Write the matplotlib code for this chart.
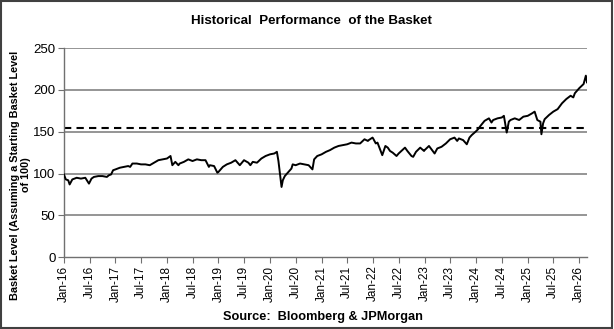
import numpy as np
import pandas as pd
import matplotlib
matplotlib.use("Agg")
import matplotlib.pyplot as plt
import matplotlib.dates as mdates
from matplotlib.patches import Rectangle

plt.rcParams["font.family"] = ["Liberation Sans", "DejaVu Sans"]

# basket level (approximate)
dates = [
    "2016-01-01", "2016-01-15", "2016-02-01", "2016-02-11", "2016-03-01", "2016-04-01", "2016-05-01",
    "2016-06-01", "2016-06-27", "2016-07-15", "2016-08-01", "2016-09-01", "2016-10-01", "2016-11-01",
    "2016-11-15", "2016-12-01", "2016-12-15",
    "2017-01-01", "2017-02-01", "2017-03-01", "2017-04-01", "2017-04-15", "2017-05-01", "2017-06-01",
    "2017-07-01", "2017-08-01", "2017-09-01", "2017-10-01", "2017-11-01", "2017-12-01",
    "2018-01-01", "2018-01-26", "2018-02-08", "2018-03-01", "2018-03-23", "2018-04-01", "2018-05-01",
    "2018-06-01", "2018-07-01", "2018-08-01", "2018-09-01", "2018-10-01", "2018-10-25", "2018-11-01",
    "2018-12-01", "2018-12-24",
    "2019-01-01", "2019-02-01", "2019-03-01", "2019-04-01", "2019-05-01", "2019-06-01", "2019-07-01",
    "2019-08-01", "2019-08-15", "2019-09-01", "2019-10-01", "2019-11-01", "2019-12-01",
    "2020-01-01", "2020-02-01", "2020-02-19", "2020-03-01", "2020-03-23", "2020-04-01", "2020-04-15",
    "2020-05-01", "2020-06-01", "2020-06-10", "2020-07-01", "2020-08-01", "2020-09-01", "2020-10-01",
    "2020-10-28", "2020-11-09", "2020-12-01",
    "2021-01-01", "2021-02-01", "2021-03-01", "2021-04-01", "2021-05-01", "2021-06-01", "2021-07-01",
    "2021-08-01", "2021-09-01", "2021-10-01", "2021-11-01", "2021-11-25", "2021-12-01", "2021-12-28",
    "2022-01-01", "2022-01-20", "2022-02-01", "2022-03-07", "2022-03-29", "2022-04-15", "2022-05-01",
    "2022-05-20", "2022-06-16", "2022-07-01", "2022-08-15", "2022-09-01", "2022-09-30", "2022-10-12",
    "2022-11-01", "2022-12-01", "2022-12-28",
    "2023-01-01", "2023-02-01", "2023-03-13", "2023-04-01", "2023-05-01", "2023-06-01", "2023-07-01",
    "2023-08-01", "2023-08-20", "2023-09-01", "2023-10-01", "2023-10-27", "2023-11-15", "2023-12-01",
    "2023-12-28",
    "2024-01-15", "2024-02-01", "2024-03-01", "2024-04-01", "2024-04-19", "2024-05-01", "2024-06-01",
    "2024-07-01", "2024-07-16", "2024-08-05", "2024-08-20", "2024-09-01", "2024-10-01", "2024-11-01",
    "2024-12-01",
    "2025-01-01", "2025-02-01", "2025-02-19", "2025-03-10", "2025-04-01", "2025-04-08", "2025-04-20",
    "2025-05-01", "2025-06-01", "2025-07-01", "2025-08-01", "2025-09-01", "2025-10-01", "2025-11-01",
    "2025-11-20", "2025-12-01",
    "2026-01-01", "2026-02-01", "2026-02-17", "2026-02-25",
]
levels = [
    99, 93, 92, 87, 93, 95, 94,
    95, 88, 94, 96, 97, 97, 96,
    98, 99, 104,
    105, 107, 108, 109, 108, 112, 112,
    111, 111, 110, 113, 116, 117,
    118, 121, 110, 114, 110, 112, 114,
    117, 115, 117, 116, 116, 108, 110,
    109, 101,
    102, 108, 111, 113, 116, 110, 116,
    113, 110, 114, 113, 118, 121,
    123, 124, 126, 115, 84, 92, 97,
    100, 106, 111, 110, 112, 111, 110,
    105, 117, 121,
    123, 126, 128, 131, 133, 134, 135,
    137, 136, 136, 141, 139, 140, 143,
    142, 136, 137, 122, 133, 131, 127,
    125, 121, 124, 131, 127, 121, 120,
    126, 131, 127,
    128, 133, 124, 130, 132, 136, 141,
    143, 139, 142, 140, 135, 143, 146,
    150,
    153, 157, 163, 166, 161, 164, 166,
    167, 169, 149, 162, 164, 166, 164,
    168,
    169, 172, 174, 164, 162, 147, 160,
    165, 170, 174, 177, 184, 189, 193,
    191, 196,
    202, 207, 217, 209,
]
barrier = 155
y_ticks = [0, 50, 100, 150, 200, 250]

dt = pd.to_datetime(dates)

fig = plt.figure(figsize=(6.14, 3.29), dpi=100)
ax = fig.add_axes([0.104, 0.218, 0.852, 0.636])

for y in y_ticks[1:]:
    ax.axhline(y, color="#8c8c8c", lw=1.3, zorder=1)
ax.axhline(barrier, color="black", lw=1.5, ls=(0, (3.5, 2.5)), zorder=2)
ax.plot(dt, levels, color="black", lw=1.4, zorder=3)

ax.set_ylim(0, 250)
ax.set_yticks(y_ticks)
ax.set_xlim(pd.Timestamp("2016-01-01"), pd.Timestamp("2026-02-25"))
ax.xaxis.set_major_locator(mdates.MonthLocator(bymonth=[1, 7]))
ax.xaxis.set_major_formatter(mdates.DateFormatter("%b-%y"))
ax.tick_params(axis="x", rotation=90, labelsize=8.5, length=4, color="#707070", pad=2)
ax.tick_params(axis="y", labelsize=9.5, length=4, color="#707070", pad=2)

for s in ["top", "right"]:
    ax.spines[s].set_visible(False)
for s in ["left", "bottom"]:
    ax.spines[s].set_color("#707070")
    ax.spines[s].set_linewidth(1.0)

fig.text(0.507, 0.937, "Historical  Performance  of the Basket", ha="center", va="center",
         fontsize=9.6, fontweight="bold")
fig.text(0.526, 0.035, "Source:  Bloomberg & JPMorgan", ha="center", va="center",
         fontsize=9.2, fontweight="bold")
fig.text(0.033, 0.468, "Basket Level (Assuming a Starting Basket Level\nof 100)", ha="center",
         va="center", rotation=90, fontsize=7.8, fontweight="bold", multialignment="center",
         linespacing=1.1)

fig.patches.append(Rectangle((0.002, 0.003), 0.995, 0.994, transform=fig.transFigure,
                             fill=False, edgecolor="#404040", lw=1.5))

fig.savefig("out.png", dpi=100)
